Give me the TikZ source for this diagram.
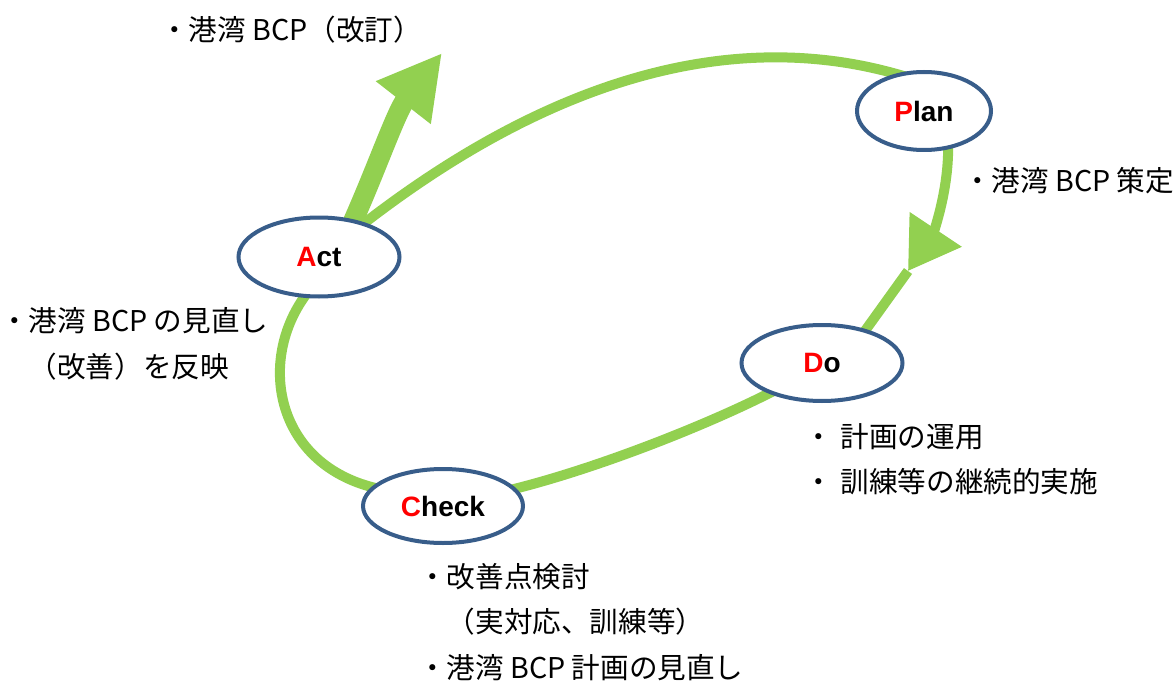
\documentclass[tikz,border=0pt]{standalone}
\usepackage{fontspec}
\setmainfont{Noto Sans CJK JP}
\newfontfamily\labelfont{Liberation Sans}
\usetikzlibrary{arrows.meta,shapes.geometric}
\definecolor{loopgreen}{HTML}{92D050}
\definecolor{ringblue}{HTML}{385D8A}
\begin{document}
\begin{tikzpicture}[x=1pt,y=-1pt,
  phase/.style={ellipse, draw=ringblue, line width=4pt, fill=white, inner sep=0pt,
    font=\labelfont\bfseries\fontsize{28}{30}\selectfont},
  loopline/.style={draw=loopgreen, line width=10pt},
  bigarrow/.style={draw=loopgreen, line width=20pt, -{Triangle[length=63pt,width=65pt]}},
  note/.style={anchor=west, inner sep=0pt, align=left, font=\fontsize{28.6}{45.5}\selectfont}]
\useasboundingbox (0,0) rectangle (1173,682);

% phase positions (nodes drawn later, on top)
\path (319,257) coordinate (actc) (924,111) coordinate (planc)
      (822,363) coordinate (doc) (443,506) coordinate (checkc);
\coordinate (pdtip) at (908,271);

% loop
\draw[loopline] ([shift={(39,-29)}]actc) .. controls (515,105) and (710,15) .. ([shift={(-14,-33)}]planc);
\draw[loopline, -{Triangle[length=50pt,width=60pt]}] ([shift={(24,29)}]planc) .. controls (950,190) and (932,235) .. (pdtip);
\draw[loopline] (pdtip) -- ([shift={(40,-28)}]doc);
\draw[loopline] ([shift={(-37,22)}]doc) .. controls (720,420) and (600,468) .. ([shift={(67,-16)}]checkc);
\draw[loopline] ([shift={(-58,-16)}]checkc) .. controls (275,470) and (255,360) .. ([shift={(-11,35)}]actc);

% big arrow out of Act
\coordinate (acttip) at (442,53);
\draw[bigarrow] ([shift={(31,-29)}]actc) .. controls (375,173) and (396,112) .. (acttip);

% phases
\node[phase, minimum width=161pt, minimum height=79pt] (act) at (actc) {\textcolor{red}{A}ct};
\node[phase, minimum width=134pt, minimum height=78pt] (plan) at (planc) {\textcolor{red}{P}lan};
\node[phase, minimum width=161pt, minimum height=76pt] (do) at (doc) {\textcolor{red}{D}o};
\node[phase, minimum width=160pt, minimum height=74pt] (check) at (checkc) {\textcolor{red}{C}heck};

% notes
\node[note] (nact1) at (160,30) {・港湾 BCP（改訂）};
\node[note] (nplan) at (963,181) {・港湾 BCP 策定};
\node[note] (nact2) at (0,344) {・港湾 BCP の見直し\\　（改善）を反映};
\node[note] (ndo) at (804,459) {・\hspace{8pt}計画の運用\\・\hspace{8pt}訓練等の継続的実施};
\node[note] (ncheck) at (418,622) {・改善点検討\\　（実対応、訓練等）\\・港湾 BCP 計画の見直し};
\end{tikzpicture}
\end{document}
